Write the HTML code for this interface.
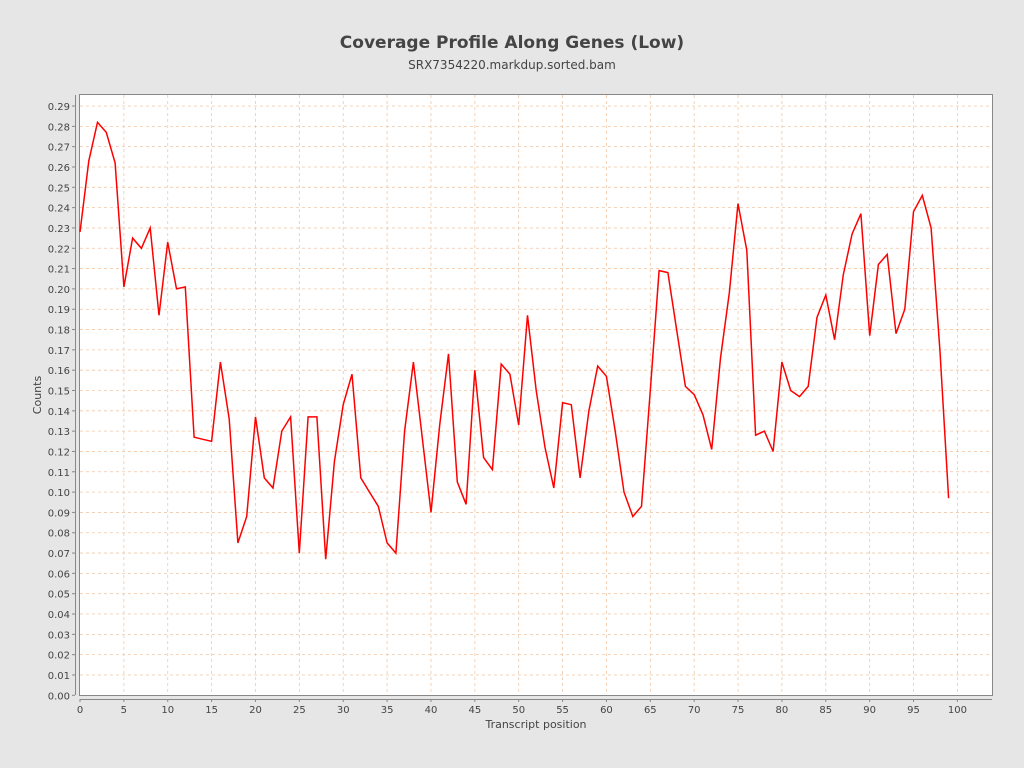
<!DOCTYPE html>
<html><head><meta charset="utf-8"><style>
html,body{margin:0;padding:0;background:#e6e6e6;}
svg{display:block;font-family:"DejaVu Sans","Liberation Sans",sans-serif;}
</style></head><body>
<svg id="s" width="1024" height="768" xmlns="http://www.w3.org/2000/svg">
<rect width="1024" height="768" fill="#e6e6e6"/>
<text x="512" y="48" text-anchor="middle" font-size="17" font-weight="bold" fill="#444">Coverage Profile Along Genes (Low)</text>
<text x="512" y="69" text-anchor="middle" font-size="12" fill="#444">SRX7354220.markdup.sorted.bam</text>
<rect x="79.5" y="94.5" width="913" height="601" fill="#fff" stroke="#888"/>
<g id="g"></g>
<text x="536" y="728" text-anchor="middle" font-size="11" fill="#444">Transcript position</text>
<text transform="translate(41,395) rotate(-90)" text-anchor="middle" font-size="11" fill="#444">Counts</text>
</svg>
<script>
var d=[0.228,0.263,0.282,0.277,0.262,0.201,0.225,0.220,0.230,0.187,0.223,0.200,0.201,0.127,0.126,0.125,0.164,0.136,0.075,0.088,0.137,0.107,0.102,0.130,0.137,0.070,0.137,0.137,0.067,0.115,0.143,0.158,0.107,0.100,0.093,0.075,0.070,0.130,0.164,0.127,0.090,0.133,0.168,0.105,0.094,0.160,0.117,0.111,0.163,0.158,0.133,0.187,0.150,0.122,0.102,0.144,0.143,0.107,0.140,0.162,0.157,0.130,0.100,0.088,0.093,0.150,0.209,0.208,0.180,0.152,0.148,0.138,0.121,0.166,0.198,0.242,0.219,0.128,0.130,0.120,0.164,0.150,0.147,0.152,0.186,0.197,0.175,0.207,0.227,0.237,0.177,0.212,0.217,0.178,0.190,0.238,0.246,0.230,0.170,0.097];
function X(v){return 80+v*8.774;}function Y(v){return 695.3-v*2032;}
var h='';
for(var i=0;i<=29;i++){var y=Y(i/100);
if(i>0)h+='<line x1="80" x2="992" y1="'+y+'" y2="'+y+'" stroke="#f0c8a8" stroke-dasharray="3,3" stroke-width="0.8"/>';
h+='<line x1="72" x2="75" y1="'+y+'" y2="'+y+'" stroke="#888"/>';
h+='<text x="70" y="'+(y+4)+'" text-anchor="end" font-size="10" fill="#444">'+(i/100).toFixed(2)+'</text>';}
for(var k=0;k<=100;k+=5){var x=X(k);
if(k>0)h+='<line y1="95" y2="695" x1="'+x+'" x2="'+x+'" stroke="#f0c8a8" stroke-dasharray="3,3" stroke-width="0.8"/>';
h+='<line y1="699" y2="702" x1="'+x+'" x2="'+x+'" stroke="#888"/>';
h+='<text y="713" x="'+x+'" text-anchor="middle" font-size="10" fill="#444">'+k+'</text>';}
h+='<line x1="75.5" x2="75.5" y1="95" y2="695" stroke="#888"/>';
h+='<line x1="80" x2="992" y1="699.5" y2="699.5" stroke="#888"/>';
var p=d.map(function(v,i){return X(i).toFixed(1)+','+Y(v).toFixed(1)}).join(' ');
h+='<polyline points="'+p+'" fill="none" stroke="#f00" stroke-width="1.5"/>';
document.getElementById('g').innerHTML=h;
</script>
</body></html>
